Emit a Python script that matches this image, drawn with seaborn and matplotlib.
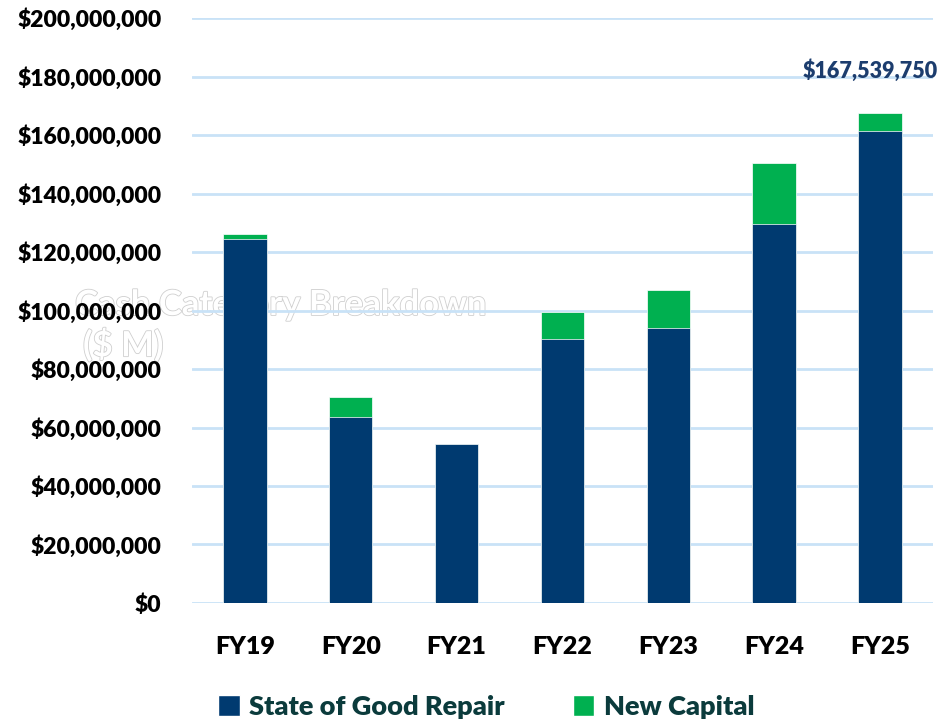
import pandas as pd
import matplotlib
matplotlib.use("Agg")
import matplotlib.pyplot as plt
import matplotlib.patheffects as pe
from matplotlib.patches import Patch
from matplotlib.ticker import FuncFormatter
import seaborn as sns

# Values (dollars)
fiscal_years = ["FY19", "FY20", "FY21", "FY22", "FY23", "FY24", "FY25"]
state_of_good_repair = [124_500_000, 63_500_000, 54_400_000, 90_300_000,
                        94_100_000, 129_600_000, 161_400_000]
new_capital = [1_700_000, 7_000_000, 0, 9_100_000,
               12_800_000, 20_700_000, 6_139_750]
top_label = "$167,539,750"

NAVY = "#003a70"
GREEN = "#00b050"
GRID = "#c9e2f7"

df = pd.DataFrame({
    "year": fiscal_years,
    "sogr": state_of_good_repair,
    "newcap": new_capital,
})
df["total"] = df["sogr"] + df["newcap"]

sns.set_theme(style="white")
plt.rcParams["font.family"] = ["Lato", "DejaVu Sans"]

fig = plt.figure(figsize=(9.46, 7.23), dpi=100)
ax = fig.add_axes([0.203, 0.166, 0.783, 0.809])

# Stacked bars: draw totals in green, then the repair portion over them
sns.barplot(data=df, x="year", y="total", color=GREEN, width=0.41,
            saturation=1, ax=ax, zorder=3, edgecolor="white", linewidth=0.5)
sns.barplot(data=df, x="year", y="sogr", color=NAVY, width=0.41,
            saturation=1, ax=ax, zorder=4, edgecolor="white", linewidth=0.5)

ax.set_ylim(0, 200_000_000)
ax.set_xlim(-0.5, 6.5)
ax.set_yticks(range(0, 200_000_001, 20_000_000))
ax.yaxis.set_major_formatter(FuncFormatter(lambda v, _: f"${v:,.0f}"))
ax.grid(axis="y", color=GRID, linewidth=2, zorder=0)
ax.grid(axis="x", visible=False)
for s in ax.spines.values():
    s.set_visible(False)
ax.set_xlabel("")
ax.set_ylabel("")
ax.tick_params(axis="y", labelsize=16.5, pad=22, length=0)
ax.tick_params(axis="x", labelsize=18, pad=24, length=0)
for lbl in ax.get_yticklabels() + ax.get_xticklabels():
    lbl.set_fontweight(800)
    lbl.set_color("black")

# Faint ghost title left behind the bars
ghost = [pe.withStroke(linewidth=1.2, foreground="#cfcfcf")]
fig.text(75 / 946, 1 - 305 / 723, "Cash Category Breakdown", fontsize=25,
         fontweight="bold", color="white", ha="left", va="center",
         path_effects=ghost, zorder=1)
fig.text(83 / 946, 1 - 345 / 723, "($ M)", fontsize=25,
         fontweight="bold", color="white", ha="left", va="center",
         path_effects=ghost, zorder=1)
ax.set_zorder(2)
ax.patch.set_alpha(0)

ax.text(5.91, 182_000_000, top_label, ha="center", va="center",
        fontsize=15.5, fontweight=800, color="#1c3d6e", zorder=5)

handles = [Patch(facecolor=NAVY, label="State of Good Repair"),
           Patch(facecolor=GREEN, label="New Capital")]
leg = fig.legend(handles=handles, loc="center", bbox_to_anchor=(0.514, 1 - 707 / 723),
                 ncol=2, frameon=False, fontsize=19.5, handlelength=0.8,
                 handleheight=0.8, handletextpad=0.35, columnspacing=2.5)
for t in leg.get_texts():
    t.set_fontweight(800)
    t.set_color("#0b3b3c")

fig.savefig("out.png", dpi=100)
